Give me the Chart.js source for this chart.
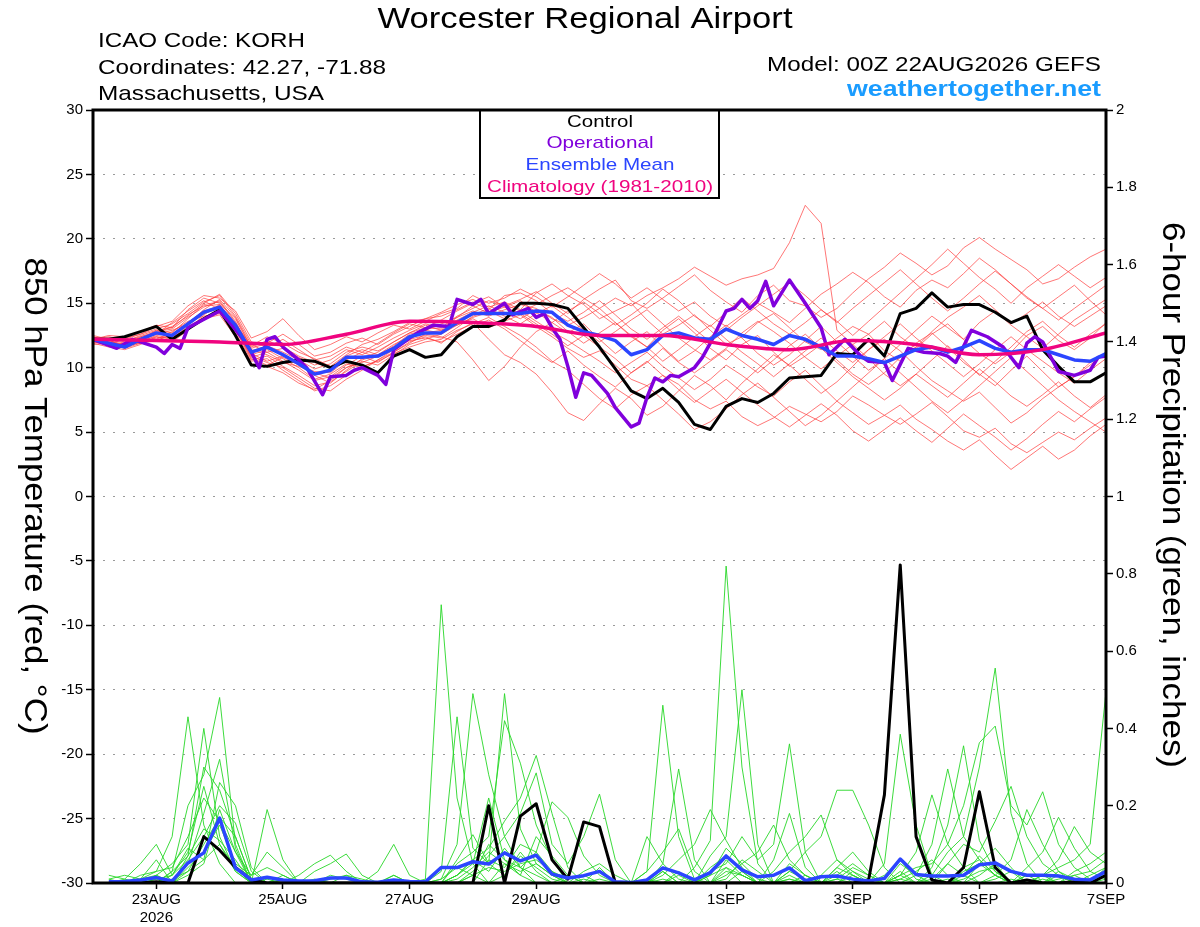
<!DOCTYPE html>
<html>
<head>
<meta charset="utf-8">
<title>Worcester Regional Airport - GEFS meteogram</title>
<script src="https://cdn.jsdelivr.net/npm/chart.js@4.4.1/dist/chart.umd.min.js"></script>
<style>
  html, body { margin: 0; padding: 0; background: #fff; }
  #wrap { width: 1200px; height: 927px; }
</style>
</head>
<body>
<div id="wrap"><canvas id="meteogram" width="1200" height="927"></canvas></div>
<script>
// ---- data (hours after 00Z 22AUG2026) ----
var tickHours = [24, 72, 120, 168, 240, 288, 336, 384];
var tickLabels = [['23AUG', '2026'], '25AUG', '27AUG', '29AUG', '1SEP', '3SEP', '5SEP', '7SEP'];

var hours6 = [];
for (var i = 0; i <= 64; i++) hours6.push(i * 6);
var precipHours = hours6.slice(1);

// 850 hPa temperature, control (6-hourly)
var controlTemp = [12.2, 12.2, 12.4, 12.8, 13.2, 12.2, 13.0, 13.8, 14.5, 12.5,
  10.2, 10.1, 10.4, 10.6, 10.5, 10.0, 10.5, 10.2, 9.6, 10.9,
  11.4, 10.8, 11.0, 12.4, 13.2, 13.2, 13.7, 15.0, 15.0, 14.9,
  14.6, 13.1, 11.6, 9.9, 8.2, 7.6, 8.4, 7.3, 5.6, 5.2,
  7.0, 7.6, 7.3, 8.0, 9.2, 9.3, 9.4, 11.1, 11.0, 12.2,
  10.9, 14.2, 14.6, 15.8, 14.7, 14.9, 14.9, 14.3, 13.5, 14.0,
  11.4, 10.1, 8.9, 8.9, 9.6];

// ensemble mean temperature (6-hourly)
var meanTemp = [12.2, 11.9, 11.6, 12.2, 12.7, 12.5, 13.4, 14.3, 14.7, 13.3,
  11.2, 11.6, 11.0, 10.3, 9.5, 9.8, 10.8, 10.8, 10.9, 11.5,
  12.4, 12.7, 12.7, 13.5, 14.2, 14.2, 14.2, 14.2, 14.4, 14.3,
  13.3, 12.8, 12.5, 12.1, 11.0, 11.4, 12.5, 12.7, 12.3, 12.2,
  13.0, 12.5, 12.2, 11.8, 12.5, 12.2, 11.6, 10.9, 10.9, 10.7,
  10.4, 10.9, 11.4, 11.6, 11.2, 11.6, 12.1, 11.5, 11.2, 11.4,
  11.4, 11.0, 10.6, 10.5, 11.1];

// operational run (3-hourly where kinks are visible)
var opHours = [0, 9, 15, 24, 27, 30, 33, 36, 48, 51, 57, 60, 63, 66, 69, 72, 78, 81, 87, 90,
  96, 99, 102, 108, 111, 114, 120, 123, 129, 135, 138, 144, 147, 150, 156, 159, 165, 168, 171, 174,
  177, 180, 183, 186, 189, 195, 198, 204, 207, 210, 213, 216, 219, 222, 228, 231, 234, 240, 243, 246,
  249, 252, 255, 258, 264, 270, 276, 279, 285, 291, 294, 300, 303, 309, 315, 321, 324, 327, 333, 339,
  345, 351, 354, 357, 360, 366, 372, 378, 381, 384];
var opTemp = [12.2, 11.5, 12.2, 11.6, 11.1, 11.8, 11.5, 13.1, 14.4, 13.7, 12.2, 11.2, 10.0, 12.2, 12.4, 11.6, 10.6, 10.0, 7.9, 9.3,
  9.4, 9.8, 10.0, 9.4, 8.7, 11.4, 12.3, 12.7, 13.3, 13.2, 15.3, 14.9, 15.3, 14.2, 15.0, 14.1, 14.6, 13.9, 14.2, 13.1,
  12.2, 10.1, 7.7, 9.6, 9.4, 8.0, 6.9, 5.4, 5.7, 7.7, 9.2, 8.9, 9.4, 9.3, 10.0, 10.8, 11.9, 14.4, 14.6, 15.3,
  14.6, 15.2, 16.7, 14.8, 16.8, 15.0, 13.1, 11.0, 12.2, 10.9, 10.5, 10.4, 9.0, 11.5, 11.2, 11.1, 10.9, 10.4, 12.9, 12.4,
  11.6, 10.0, 11.9, 12.4, 12.0, 9.7, 9.4, 9.8, 10.8, 10.9];

// climatology (daily)
var climHours = [0, 24, 48, 72, 96, 120, 144, 168, 192, 216, 240, 264, 288, 312, 336, 360, 384];
var climTemp = [12.2, 12.1, 12.0, 11.8, 12.6, 13.6, 13.5, 13.2, 12.5, 12.5, 11.8, 11.4, 12.1, 11.8, 11.0, 11.4, 12.7];

// ensemble member temperatures (6-hourly)
var tempMembers = [
  [12.0, 11.8, 12.3, 12.6, 13.0, 13.4, 14.2, 15.1, 15.6, 14.0,
   11.8, 11.2, 11.5, 10.8, 10.2, 10.6, 11.4, 11.0, 11.6, 12.3,
   12.9, 13.4, 13.1, 14.0, 14.6, 15.2, 14.8, 15.3, 15.9, 15.0,
   14.2, 15.3, 16.1, 16.8, 15.2, 14.6, 15.4, 16.3, 17.2, 16.0,
   15.1, 14.3, 15.6, 16.4, 15.2, 14.8, 13.9, 14.6, 15.8, 16.9,
   17.8, 18.9, 18.1, 17.2, 17.9, 19.3, 20.1, 19.2, 18.4, 17.6,
   16.5, 16.9, 17.8, 18.6, 19.2],
  [12.4, 12.1, 11.7, 11.9, 12.2, 12.8, 13.6, 14.0, 14.2, 12.7,
   10.6, 10.9, 10.1, 9.4, 8.6, 8.9, 9.7, 10.5, 10.2, 11.0,
   11.8, 12.2, 12.6, 13.3, 13.8, 13.1, 13.6, 14.1, 13.2, 12.4,
   11.5, 10.8, 11.3, 10.2, 9.1, 8.6, 9.4, 8.7, 7.5, 6.8,
   7.4, 6.2, 5.5, 6.1, 7.0, 6.4, 5.8, 6.6, 7.8, 7.1,
   6.3, 5.6, 6.4, 7.3, 6.2, 5.1, 4.6, 5.3, 4.1, 3.4,
   4.2, 5.0, 4.4, 5.3, 6.1],
  [12.1, 12.3, 12.0, 12.5, 12.9, 13.1, 14.5, 15.4, 15.0, 13.8,
   11.5, 11.9, 12.6, 11.8, 10.9, 11.2, 11.9, 12.3, 11.8, 12.6,
   13.2, 13.8, 14.3, 14.9, 15.3, 14.7, 15.1, 14.5, 15.8, 16.5,
   15.6, 14.9, 13.8, 14.4, 15.0, 13.7, 12.6, 13.3, 14.1, 12.9,
   11.8, 12.4, 13.5, 14.2, 13.1, 12.0, 11.4, 12.3, 13.2, 12.6,
   11.3, 10.5, 11.6, 12.8, 13.9, 14.7, 15.6, 14.5, 13.4, 14.2,
   15.1, 14.0, 13.2, 14.0, 14.8],
  [12.3, 12.0, 11.6, 12.0, 12.5, 12.3, 13.2, 13.9, 14.4, 12.9,
   10.9, 10.4, 10.0, 9.2, 8.4, 8.2, 9.1, 9.8, 10.6, 11.2,
   12.0, 12.4, 11.9, 12.8, 13.5, 12.2, 11.0, 10.4, 9.5, 8.1,
   6.5, 5.9, 7.2, 8.4, 7.6, 6.3, 7.0, 8.2, 9.4, 8.6,
   7.5, 8.8, 9.9, 11.0, 10.2, 9.1, 8.0, 8.9, 10.1, 11.4,
   12.2, 11.3, 10.1, 9.0, 8.2, 7.4, 8.1, 6.9, 5.7, 6.5,
   7.6, 8.5, 9.3, 10.2, 11.2],
  [12.2, 12.4, 12.1, 12.4, 12.8, 13.0, 13.9, 14.7, 15.2, 13.6,
   11.3, 11.7, 11.2, 10.6, 9.9, 10.3, 11.2, 11.6, 11.3, 12.0,
   12.7, 13.1, 13.0, 13.9, 14.4, 14.0, 14.5, 14.9, 14.6, 13.8,
   13.3, 13.9, 14.6, 15.4, 14.8, 15.6, 16.2, 16.9, 17.8, 17.1,
   16.4, 16.9, 17.2, 17.7, 19.7, 22.6, 21.2, 12.9, 11.8, 12.6,
   13.6, 12.4, 11.5, 12.6, 13.4, 12.2, 11.1, 10.3, 11.2, 12.5,
   13.2, 12.1, 11.4, 12.3, 13.5],
  [11.9, 11.6, 11.4, 11.8, 12.4, 12.0, 12.9, 14.1, 14.9, 13.2,
   11.0, 11.4, 10.7, 10.0, 9.1, 9.5, 10.3, 10.0, 10.6, 11.4,
   12.2, 12.5, 12.3, 13.1, 14.0, 14.4, 13.8, 14.3, 14.9, 15.6,
   16.2, 15.4, 14.6, 13.5, 12.4, 11.6, 12.9, 13.8, 12.7, 11.5,
   10.6, 11.8, 12.5, 11.2, 10.1, 10.9, 11.8, 10.6, 9.5, 8.7,
   9.6, 10.8, 11.9, 12.7, 11.6, 10.4, 9.5, 8.6, 9.8, 10.9,
   9.7, 8.5, 9.3, 10.4, 11.0],
  [12.5, 12.2, 11.9, 12.3, 12.6, 12.9, 13.4, 14.5, 15.3, 13.9,
   11.6, 12.1, 11.6, 10.9, 10.4, 10.0, 10.9, 11.4, 11.0, 11.8,
   12.4, 12.9, 13.4, 13.9, 14.8, 14.2, 14.9, 14.4, 13.6, 12.8,
   12.1, 11.3, 10.5, 9.6, 10.4, 11.2, 10.1, 9.2, 8.3, 9.1,
   10.2, 9.4, 8.5, 7.8, 8.9, 9.8, 8.6, 7.4, 6.5, 5.6,
   6.3, 7.1, 6.0, 5.2, 4.3, 3.6, 4.4, 3.2, 2.1, 3.0,
   3.9, 2.9, 3.6, 4.7, 5.6],
  [12.0, 12.2, 12.2, 12.6, 13.2, 13.6, 14.8, 15.6, 15.4, 14.4,
   12.3, 12.8, 13.8, 12.5, 11.4, 11.8, 12.4, 12.0, 12.7, 13.3,
   13.0, 13.6, 14.2, 14.6, 15.6, 15.0, 15.4, 16.1, 15.5, 14.7,
   15.5, 16.4, 17.3, 16.5, 15.4, 16.2, 15.3, 14.4, 15.1, 14.0,
   13.2, 14.1, 15.0, 14.3, 13.5, 14.6, 15.7, 16.5, 17.4, 16.6,
   15.5, 14.7, 16.0, 16.8, 16.2, 17.3, 18.5, 17.6, 16.5, 15.4,
   14.6, 15.5, 16.4, 15.2, 14.1],
  [12.2, 11.9, 11.5, 12.1, 12.6, 12.6, 13.3, 14.2, 14.6, 13.0,
   10.8, 11.2, 10.5, 9.8, 9.0, 9.3, 10.2, 10.9, 10.4, 11.2,
   11.9, 12.6, 12.4, 12.0, 10.6, 9.0, 10.1, 11.6, 12.8, 13.5,
   12.7, 13.4, 12.2, 11.1, 12.0, 12.8, 11.6, 10.5, 11.3, 12.4,
   13.3, 12.3, 11.1, 10.2, 11.0, 12.1, 13.2, 12.0, 10.9, 9.8,
   10.7, 11.8, 12.9, 14.0, 13.1, 12.2, 13.5, 14.4, 13.3, 12.4,
   11.5, 12.6, 13.7, 14.5, 15.3],
  [12.1, 11.7, 11.8, 12.2, 12.9, 12.7, 13.8, 14.9, 15.1, 13.5,
   11.4, 11.0, 10.4, 10.1, 9.6, 9.2, 10.0, 10.4, 10.9, 11.7,
   12.6, 12.9, 12.7, 13.6, 14.1, 14.6, 14.0, 13.4, 14.2, 14.8,
   13.9, 12.9, 12.0, 12.8, 13.7, 14.5, 13.4, 12.3, 11.4, 10.6,
   11.5, 12.7, 13.6, 12.8, 11.9, 10.8, 9.9, 10.9, 11.8, 10.7,
   9.5, 8.6, 9.5, 10.6, 11.7, 10.6, 9.4, 10.5, 11.6, 12.8,
   13.6, 12.5, 11.6, 12.6, 13.4],
  [12.3, 12.1, 11.8, 12.1, 12.4, 12.2, 13.1, 13.8, 14.1, 12.4,
   10.5, 10.7, 9.8, 9.0, 8.2, 8.6, 9.4, 10.1, 10.5, 11.1,
   11.6, 12.0, 12.2, 12.9, 13.4, 13.9, 13.2, 12.5, 11.6, 10.5,
   9.8, 8.7, 7.6, 6.8, 7.9, 8.6, 7.5, 6.4, 5.2, 5.8,
   6.8, 7.9, 8.8, 7.7, 6.6, 5.5, 6.3, 7.4, 8.5, 9.6,
   10.7, 9.6, 8.5, 7.4, 6.5, 7.5, 8.6, 9.7, 10.8, 9.7,
   8.6, 7.5, 6.6, 5.8, 5.0],
  [12.4, 12.0, 11.7, 12.4, 12.7, 13.2, 14.0, 15.0, 15.7, 14.2,
   12.0, 11.6, 12.2, 11.4, 10.6, 10.9, 11.6, 11.2, 11.9, 12.7,
   13.4, 13.1, 13.7, 14.4, 15.0, 15.5, 14.7, 15.2, 14.3, 13.5,
   14.4, 15.1, 14.2, 13.3, 14.1, 15.0, 16.1, 15.2, 14.0, 13.2,
   14.3, 15.4, 14.4, 13.4, 12.6, 13.5, 14.5, 13.6, 12.5, 13.6,
   14.7, 15.8, 16.9, 18.0, 19.2, 18.1, 17.0, 16.1, 15.0, 16.2,
   17.1, 18.0, 17.1, 16.2, 17.0],
  [11.8, 11.9, 11.6, 12.0, 12.3, 12.4, 13.0, 13.7, 14.3, 13.1,
   11.1, 10.5, 10.9, 10.4, 9.4, 8.8, 9.8, 10.7, 11.2, 12.0,
   12.7, 13.3, 12.9, 13.3, 13.9, 14.3, 14.7, 14.2, 13.4, 12.6,
   11.7, 12.5, 11.6, 10.7, 9.6, 10.4, 11.5, 10.4, 9.6, 10.5,
   11.4, 10.5, 9.6, 10.6, 11.7, 12.6, 11.5, 10.4, 9.3, 8.4,
   7.5, 8.4, 9.5, 8.6, 7.7, 8.8, 9.9, 8.9, 7.8, 7.0,
   7.9, 8.9, 7.8, 6.9, 7.9],
  [12.2, 12.5, 12.4, 12.8, 13.3, 13.1, 14.1, 14.8, 14.9, 13.4,
   11.7, 12.4, 11.9, 11.2, 10.7, 10.1, 11.0, 11.8, 12.2, 12.8,
   13.5, 13.8, 14.0, 14.5, 15.1, 14.5, 15.6, 15.8, 15.2, 14.2,
   13.6, 14.3, 15.2, 14.1, 13.0, 12.2, 13.1, 14.0, 13.0, 12.0,
   12.9, 13.9, 14.8, 15.7, 16.6, 15.6, 14.5, 13.5, 14.6, 15.6,
   16.6, 17.6, 16.5, 15.4, 14.4, 15.4, 16.5, 17.5, 16.5, 15.5,
   14.6, 13.7, 14.6, 15.5, 16.4],
  [12.0, 11.8, 11.9, 12.3, 12.6, 13.5, 14.4, 15.2, 14.5, 12.9,
   10.7, 10.2, 10.8, 10.2, 9.7, 9.6, 10.6, 11.2, 10.8, 11.5,
   12.3, 12.7, 12.9, 13.7, 14.3, 14.8, 14.3, 13.8, 14.5, 13.9,
   12.8, 11.9, 12.7, 13.5, 12.5, 11.6, 10.5, 11.4, 12.4, 13.3,
   12.2, 11.2, 10.3, 9.3, 10.3, 11.3, 12.3, 11.3, 10.4, 11.4,
   12.4, 13.4, 12.3, 11.3, 10.3, 9.3, 10.3, 11.4, 12.4, 11.4,
   10.5, 9.6, 8.8, 9.8, 10.7],
  [12.3, 12.2, 11.5, 11.9, 12.1, 12.6, 13.5, 14.4, 14.8, 12.6,
   10.3, 10.1, 9.6, 8.8, 8.3, 9.0, 10.0, 10.6, 11.0, 11.6,
   12.1, 12.3, 12.0, 12.6, 13.2, 13.7, 13.0, 12.1, 11.2, 10.4,
   11.3, 10.2, 9.3, 8.5, 9.6, 10.5, 9.4, 8.3, 7.3, 8.2,
   9.1, 8.1, 7.1, 6.2, 5.4, 6.3, 7.2, 6.3, 5.1, 4.3,
   5.2, 6.1, 5.1, 4.2, 5.3, 6.4, 5.5, 4.6, 3.6, 4.5,
   5.6, 6.6, 5.8, 6.8, 7.7]
];

// 6-hour precipitation (inches), valid 06Z 22AUG onward
var controlPrecip = [0, 0, 0, 0.003, 0, 0, 0.12, 0.085, 0.04, 0.008, 0, 0, 0, 0, 0, 0,
  0, 0, 0, 0, 0, 0, 0, 0, 0.20, 0, 0.173, 0.205, 0.06, 0.01, 0.158, 0.146,
  0, 0, 0, 0, 0, 0, 0, 0, 0, 0, 0, 0, 0, 0, 0, 0,
  0.008, 0.228, 0.823, 0.12, 0.008, 0, 0.04, 0.236, 0.04, 0, 0.008, 0, 0, 0.003, 0, 0.02];

var meanPrecip = [0.003, 0.004, 0.008, 0.014, 0.005, 0.052, 0.078, 0.168, 0.039, 0.008, 0.015, 0.008, 0.005, 0.006, 0.013, 0.013,
  0.003, 0.002, 0.008, 0.004, 0.003, 0.04, 0.04, 0.055, 0.049, 0.078, 0.057, 0.072, 0.023, 0.013, 0.019, 0.03,
  0.003, 0.001, 0.008, 0.039, 0.026, 0.008, 0.027, 0.07, 0.034, 0.016, 0.02, 0.039, 0.006, 0.016, 0.018, 0.01,
  0.005, 0.012, 0.062, 0.022, 0.018, 0.018, 0.02, 0.047, 0.052, 0.03, 0.02, 0.02, 0.018, 0.01, 0.008, 0.03];

var precipMembers = [
  [0, 0, 0.01, 0.03, 0.12, 0.43, 0.15, 0.05, 0, 0, 0.19, 0.06, 0, 0, 0.01, 0.02,
   0, 0, 0.02, 0, 0.01, 0.72, 0.22, 0.05, 0, 0.02, 0.08, 0.03, 0, 0, 0, 0,
   0, 0, 0.03, 0.46, 0.12, 0.01, 0, 0.06, 0.02, 0, 0, 0.03, 0.01, 0, 0, 0,
   0, 0, 0.02, 0, 0, 0.05, 0.02, 0, 0, 0.01, 0, 0, 0.03, 0.01, 0, 0.02],
  [0, 0, 0, 0.02, 0.05, 0.1, 0.40, 0.12, 0.03, 0, 0.01, 0, 0, 0, 0, 0,
   0, 0, 0, 0, 0, 0.01, 0.1, 0.49, 0.28, 0.12, 0.04, 0, 0, 0.02, 0, 0,
   0, 0, 0, 0.03, 0, 0.04, 0.11, 0.82, 0.3, 0.05, 0, 0, 0.02, 0, 0.01, 0,
   0, 0.02, 0.06, 0.01, 0, 0, 0.02, 0.07, 0.03, 0, 0, 0.01, 0, 0, 0.02, 0.04],
  [0.01, 0, 0, 0, 0.03, 0.2, 0.28, 0.48, 0.1, 0, 0, 0.02, 0, 0.01, 0, 0,
   0, 0, 0, 0, 0, 0.03, 0.43, 0.09, 0.05, 0.49, 0.14, 0.05, 0.02, 0, 0, 0.04,
   0, 0, 0, 0.01, 0, 0, 0.03, 0.05, 0.12, 0.06, 0.1, 0.36, 0.08, 0, 0, 0.02,
   0, 0, 0.03, 0, 0, 0.01, 0, 0.02, 0.05, 0, 0.02, 0, 0, 0, 0, 0],
  [0, 0, 0, 0.01, 0, 0.05, 0.18, 0.32, 0.09, 0, 0, 0, 0, 0, 0, 0,
   0, 0, 0, 0, 0, 0, 0.05, 0.08, 0.12, 0.42, 0.31, 0.15, 0.06, 0, 0, 0,
   0, 0, 0, 0, 0.03, 0, 0.07, 0.12, 0.5, 0.1, 0, 0, 0, 0.02, 0.06, 0.03,
   0, 0, 0, 0, 0.02, 0.08, 0.12, 0.3, 0.556, 0.18, 0.05, 0, 0.02, 0, 0, 0.03],
  [0, 0, 0, 0, 0.02, 0.08, 0.25, 0.1, 0.03, 0, 0, 0, 0, 0, 0.02, 0.01,
   0, 0, 0, 0, 0, 0, 0.02, 0.06, 0.09, 0.16, 0.22, 0.33, 0.18, 0.04, 0, 0.01,
   0, 0, 0, 0.05, 0.295, 0.06, 0, 0, 0.03, 0, 0, 0.01, 0, 0, 0.03, 0,
   0, 0.05, 0.385, 0.15, 0.02, 0, 0, 0, 0.01, 0.03, 0, 0.02, 0.04, 0.06, 0.1, 0.495],
  [0.02, 0.01, 0.05, 0.1, 0.02, 0.06, 0.12, 0.2, 0.155, 0.03, 0, 0.01, 0, 0, 0, 0,
   0, 0, 0.02, 0, 0, 0, 0.02, 0.05, 0.22, 0.06, 0.04, 0.08, 0.21, 0.17, 0.07, 0.02,
   0, 0, 0.01, 0, 0, 0, 0.02, 0.09, 0.05, 0.01, 0, 0.03, 0.08, 0.12, 0.24, 0.24,
   0.15, 0.04, 0, 0, 0.01, 0.05, 0.1, 0.08, 0.16, 0.25, 0.12, 0.05, 0.02, 0, 0.01, 0.02],
  [0, 0, 0.01, 0.02, 0, 0.04, 0.08, 0.15, 0.05, 0.02, 0.08, 0.04, 0, 0, 0, 0,
   0, 0, 0, 0, 0, 0, 0, 0.03, 0.07, 0.12, 0.18, 0.285, 0.1, 0.05, 0.12, 0.23,
   0.06, 0, 0, 0, 0, 0, 0, 0.03, 0.02, 0, 0, 0.05, 0.02, 0, 0, 0,
   0, 0, 0.02, 0.04, 0.05, 0.1, 0.2, 0.363, 0.406, 0.2, 0.15, 0.236, 0.1, 0.04, 0.01, 0.02],
  [0, 0, 0, 0.01, 0.02, 0.09, 0.06, 0.1, 0.04, 0, 0, 0, 0, 0, 0, 0,
   0, 0.03, 0.1, 0.02, 0, 0, 0.06, 0.125, 0.05, 0.02, 0.07, 0.04, 0.01, 0, 0, 0,
   0, 0, 0, 0.02, 0.06, 0.1, 0.19, 0.11, 0.04, 0, 0.06, 0.18, 0.04, 0, 0, 0.03,
   0.01, 0, 0.05, 0.02, 0.1, 0.295, 0.12, 0.06, 0.02, 0, 0.04, 0.08, 0.17, 0.09, 0.03, 0.06],
  [0, 0.01, 0, 0, 0.03, 0.07, 0.14, 0.11, 0.06, 0, 0, 0, 0.02, 0.05, 0.072, 0.03,
   0, 0, 0, 0, 0, 0, 0, 0.02, 0.04, 0.03, 0.05, 0.06, 0.03, 0.01, 0.02, 0,
   0, 0, 0.03, 0.08, 0.14, 0.03, 0, 0.02, 0.05, 0.08, 0.15, 0.06, 0.02, 0, 0.01, 0.04,
   0.02, 0, 0.01, 0, 0.04, 0.15, 0.355, 0.11, 0.03, 0, 0, 0.02, 0.06, 0.146, 0.08, 0.05],
  [0, 0, 0, 0, 0.01, 0.03, 0.1, 0.17, 0.12, 0.01, 0, 0, 0, 0.03, 0.05, 0.075,
   0.02, 0, 0, 0, 0, 0, 0.01, 0.04, 0.08, 0.05, 0.02, 0, 0, 0, 0.03, 0.05,
   0.02, 0, 0.12, 0.05, 0.01, 0, 0, 0.04, 0.02, 0, 0.03, 0.08, 0.12, 0.176, 0.06, 0.02,
   0, 0, 0.02, 0.08, 0.228, 0.1, 0.04, 0, 0.02, 0.06, 0.19, 0.1, 0.03, 0, 0, 0.01],
  [0, 0, 0.02, 0.03, 0.04, 0.12, 0.22, 0.16, 0.08, 0.02, 0.04, 0.02, 0, 0, 0, 0,
   0, 0, 0, 0, 0, 0, 0.02, 0.06, 0.03, 0.09, 0.04, 0.02, 0, 0, 0, 0,
   0, 0, 0, 0, 0, 0, 0.04, 0.07, 0.03, 0, 0, 0, 0, 0, 0.02, 0.05,
   0.02, 0, 0, 0, 0, 0, 0.03, 0.05, 0.02, 0, 0, 0, 0, 0.02, 0.03, 0.01],
  [0, 0, 0, 0, 0, 0.07, 0.3, 0.24, 0.12, 0.01, 0, 0, 0, 0, 0, 0.02,
   0.01, 0, 0, 0, 0, 0.01, 0.04, 0.02, 0.1, 0.06, 0.02, 0.12, 0.07, 0.02, 0, 0,
   0, 0, 0, 0, 0.02, 0, 0, 0.01, 0.06, 0.03, 0, 0.02, 0, 0, 0.04, 0.08,
   0.03, 0, 0.01, 0.03, 0.06, 0.02, 0, 0.05, 0.09, 0.04, 0, 0, 0, 0.03, 0.05, 0.08],
  [0, 0, 0, 0.02, 0, 0.03, 0.06, 0.26, 0.2, 0.04, 0, 0, 0, 0, 0, 0,
   0, 0, 0, 0, 0, 0, 0, 0, 0.06, 0.04, 0.1, 0.08, 0.03, 0, 0.01, 0,
   0, 0, 0, 0, 0, 0, 0.02, 0.04, 0, 0, 0, 0, 0, 0, 0, 0,
   0, 0, 0, 0.02, 0, 0, 0.04, 0.06, 0.02, 0, 0, 0, 0.01, 0.02, 0, 0.04],
  [0.01, 0.02, 0.01, 0.06, 0, 0.02, 0.05, 0.19, 0.08, 0, 0, 0, 0, 0, 0, 0,
   0, 0, 0, 0, 0, 0, 0, 0.02, 0, 0.05, 0.03, 0.05, 0.02, 0, 0, 0,
   0, 0, 0, 0.03, 0, 0, 0, 0, 0, 0, 0, 0.01, 0, 0, 0.04, 0.02,
   0, 0, 0, 0, 0, 0, 0.01, 0.03, 0.04, 0, 0.02, 0.02, 0, 0, 0.01, 0.02]
];

// ---- helpers ----
function pts(hours, vals) {
  return vals.map(function (v, k) { return { x: hours[k], y: v }; });
}

// draw text squeezed/stretched to the width it has in the picture
function fitText(c, text, x, y, width, font, color, align, angle) {
  c.save();
  c.font = font;
  c.fillStyle = color;
  c.textAlign = align;
  c.textBaseline = angle ? 'middle' : 'alphabetic';
  var w = c.measureText(text).width;
  c.translate(x, y);
  if (angle) c.rotate(angle);
  c.scale(width / w, 1);
  c.fillText(text, 0, 0);
  c.restore();
}

var FONT = '"Liberation Sans", Arial, Helvetica, sans-serif';

var datasets = [];
datasets.push({ label: 'Climatology (1981-2010)', data: pts(climHours, climTemp), yAxisID: 'y',
  borderColor: '#f0047f', borderWidth: 3.5, tension: 0.4, cubicInterpolationMode: 'monotone', order: 1 });
datasets.push({ label: 'Ensemble Mean', data: pts(hours6, meanTemp), yAxisID: 'y',
  borderColor: '#2b45ff', borderWidth: 3.5, order: 2 });
datasets.push({ label: 'Operational', data: pts(opHours, opTemp), yAxisID: 'y',
  borderColor: '#8000dc', borderWidth: 3.5, order: 3 });
datasets.push({ label: 'Control', data: pts(hours6, controlTemp), yAxisID: 'y',
  borderColor: '#000000', borderWidth: 3, order: 4 });
datasets.push({ label: 'Ensemble Mean precip', data: pts(precipHours, meanPrecip), yAxisID: 'y2',
  borderColor: '#2b45ff', borderWidth: 3.5, order: 5 });
datasets.push({ label: 'Control precip', data: pts(precipHours, controlPrecip), yAxisID: 'y2',
  borderColor: '#000000', borderWidth: 3, order: 6 });
tempMembers.forEach(function (m, k) {
  datasets.push({ label: 'Member ' + (k + 1), data: pts(hours6, m), yAxisID: 'y',
    borderColor: 'rgba(255, 60, 60, 0.7)', borderWidth: 1, order: 20 });
});
precipMembers.forEach(function (m, k) {
  datasets.push({ label: 'Member precip ' + (k + 1), data: pts(precipHours, m), yAxisID: 'y2',
    borderColor: 'rgba(40, 215, 40, 0.9)', borderWidth: 1, order: 30 });
});

var decorations = {
  id: 'decorations',
  afterDatasetsDraw: function (chart) {
    var c = chart.ctx, a = chart.chartArea;
    c.save();
    // legend box
    c.fillStyle = '#fff';
    c.fillRect(480, a.top, 239, 88);
    c.strokeStyle = '#000';
    c.lineWidth = 2;
    c.strokeRect(480, a.top, 239, 88);
    // frame
    c.lineWidth = 3;
    c.strokeRect(a.left, a.top, a.right - a.left, a.bottom - a.top);
    c.restore();

    fitText(c, 'Control', 600, 127, 66, '17px ' + FONT, '#000', 'center');
    fitText(c, 'Operational', 600, 148, 107, '17px ' + FONT, '#8000dc', 'center');
    fitText(c, 'Ensemble Mean', 600, 170, 149, '17px ' + FONT, '#2b45ff', 'center');
    fitText(c, 'Climatology (1981-2010)', 600, 192, 226, '17px ' + FONT, '#f0047f', 'center');
  },
  afterDraw: function (chart) {
    var c = chart.ctx;
    fitText(c, 'Worcester Regional Airport', 585, 28, 415, '30px ' + FONT, '#000', 'center');
    fitText(c, 'ICAO Code: KORH', 98, 47, 207, '21px ' + FONT, '#000', 'left');
    fitText(c, 'Coordinates: 42.27, -71.88', 98, 74, 288, '21px ' + FONT, '#000', 'left');
    fitText(c, 'Massachusetts, USA', 98, 100, 226, '21px ' + FONT, '#000', 'left');
    fitText(c, 'Model: 00Z 22AUG2026 GEFS', 1101, 71, 334, '21px ' + FONT, '#000', 'right');
    fitText(c, 'weathertogether.net', 1101, 96, 254, 'bold 22px ' + FONT, '#1a9cff', 'right');
    fitText(c, '850 hPa Temperature (red, \u00B0C)', 34, 496, 477, '31px ' + FONT, '#000', 'center', Math.PI / 2);
    fitText(c, '6-hour Precipitation (green, inches)', 1172, 495, 546, '31px ' + FONT, '#000', 'center', Math.PI / 2);
  }
};

var tickFont = { family: FONT, size: 15 };

var ctx = document.getElementById('meteogram').getContext('2d');
var meteogram = new Chart(ctx, {
  type: 'line',
  data: { datasets: datasets },
  options: {
    responsive: false,
    animation: false,
    devicePixelRatio: 1,
    layout: { padding: { top: 110, left: 0, right: 0, bottom: 0 } },
    plugins: { legend: { display: false }, tooltip: { enabled: false } },
    elements: { point: { radius: 0 }, line: { tension: 0, borderJoinStyle: 'round' } },
    scales: {
      x: {
        type: 'linear', min: 0, max: 384,
        afterBuildTicks: function (s) { s.ticks = tickHours.map(function (h) { return { value: h }; }); },
        afterFit: function (s) { s.height = 44; },
        ticks: { autoSkip: false, maxRotation: 0, color: '#000', font: tickFont, padding: 2,
          callback: function (v, i) { return tickLabels[i]; } },
        grid: { drawOnChartArea: false, drawTicks: true, tickLength: 6, tickColor: '#000', tickWidth: 1.5 },
        border: { display: false }
      },
      y: {
        position: 'left', min: -30, max: 30,
        afterFit: function (s) { s.width = 93; },
        ticks: { stepSize: 5, color: '#000', font: tickFont, padding: 3 },
        grid: { color: '#9a9a9a', lineWidth: 1, tickLength: 7, tickColor: '#000', tickWidth: 1.5 },
        border: { display: false, dash: [2, 8] }
      },
      y2: {
        position: 'right', min: 0, max: 2,
        afterFit: function (s) { s.width = 94; },
        ticks: { stepSize: 0.2, color: '#000', font: tickFont, padding: 3,
          callback: function (v) { return String(Number(v.toFixed(1))); } },
        grid: { drawOnChartArea: false, tickLength: 7, tickColor: '#000', tickWidth: 1.5 },
        border: { display: false }
      }
    }
  },
  plugins: [decorations]
});
</script>
</body>
</html>
